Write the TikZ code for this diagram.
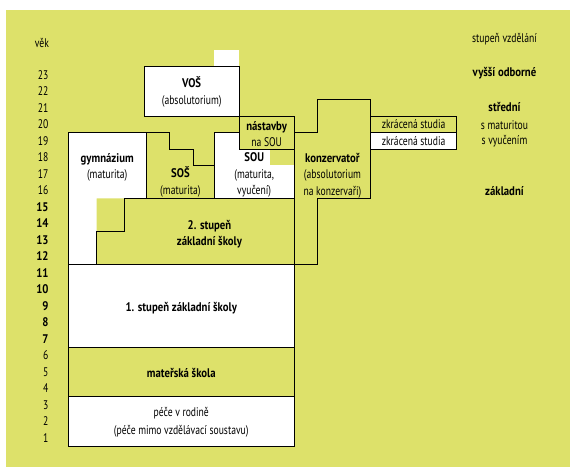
\documentclass[tikz,border=0pt]{standalone}
\usepackage{fontspec}
\setmainfont{PT Sans}[FakeStretch=0.77, BoldFeatures={FakeStretch=0.86}]
\definecolor{zluta}{RGB}{221,225,106}
\tikzset{
  box/.style={draw=black, line width=0.8pt},
  txt/.style={align=center, font=\fontsize{12.5}{16.5}\selectfont},
  age/.style={anchor=east, font=\fontsize{12.5}{14}\selectfont},
  agebf/.style={anchor=east, font=\fontsize{12.5}{14}\selectfont\bfseries},
}
\begin{document}
\begin{tikzpicture}[x=1pt,y=16.5pt]
\useasboundingbox (0,-1.2727) rectangle (570,27.03);
\fill[zluta] (6,-1.2727) rectangle (570,26.42);

\fill[white] (214,23) rectangle (239,24);
\fill[white] (68.3,11) -- (68.3,19) -- (146,19) -- (146,15) -- (96.7,15) -- (96.7,11) -- cycle;
\fill[white] (214,15) rectangle (294.3,19);
\fill[zluta] (270,17) rectangle (294.3,18);

\draw[box, fill=white] (144.3,20) rectangle (239,23);
\draw[box] (68.3,11) -- (68.3,19) -- (146,19) -- (146,15);
\draw[box] (146,19) -- (169.3,19) -- (169.3,18) -- (193.3,18) -- (193.3,17) -- (214,17);
\draw[box] (214,15) -- (214,19) -- (239,19);
\draw[box, fill=zluta] (239,18) rectangle (294.3,20);
\draw[box] (294.3,11) -- (294.3,19) -- (317.7,19) -- (317.7,21) -- (370.5,21) -- (370.5,15) -- (317.7,15) -- (317.7,11) -- cycle;
\draw[box, fill=zluta] (370.5,19) rectangle (456.7,20);
\draw[box, fill=white] (370.5,18) rectangle (456.7,19);
\draw[box] (96.7,11) -- (96.7,13) -- (124,13) -- (124,15) -- (294.3,15);
\draw[box, fill=white] (68.3,6) rectangle (294.3,11);
\draw[box] (68.3,3) rectangle (294.3,6);
\draw[box, fill=white] (68.3,0) rectangle (294.3,3);

\node[txt] (vos) at (191.7,21.45) {\textbf{VOŠ}\\(absolutorium)};
\node[txt] (nastavby) at (266.7,18.9) {\textbf{nástavby}\\na SOU};
\node[txt] (gymn) at (107.2,16.9) {\textbf{gymnázium}\\(maturita)};
\node[txt] (sos) at (180.4,16) {\textbf{SOŠ}\\(maturita)};
\node[txt] (sou) at (254.2,16.4) {\textbf{SOU}\\(maturita,\\vyučení)};
\node[txt] (konz) at (332.5,16.4) {\textbf{konzervatoř}\\(absolutorium\\na konzervaři)};
\node[txt] (zkr1) at (413.6,19.5) {zkrácená studia};
\node[txt] (zkr2) at (413.6,18.5) {zkrácená studia};
\node[txt] (stup2) at (209.5,12.84) {\textbf{2. stupeň}\\\textbf{základní školy}};
\node[txt] (stup1) at (181.3,8.34) {\textbf{1. stupeň základní školy}};
\node[txt] (ms) at (181.3,4.44) {\textbf{mateřská škola}};
\node[txt, font=\fontsize{12.5}{18}\selectfont] (pece) at (181.3,1.43) {péče v rodině\\(péče mimo vzdělávací soustavu)};

\node[txt] (stupen) at (504.5,24.67) {stupeň vzdělání};
\node[txt] (vyssi) at (504.5,22.62) {\textbf{vyšší odborné}};
\node[txt] (stredni) at (504.5,20.55) {\textbf{střední}};
\node[txt] (smat) at (504.5,19.45) {s maturitou};
\node[txt] (svyuc) at (504.5,18.45) {s vyučením};
\node[txt] (zakl) at (504.5,15.45) {\textbf{základní}};

\node[age] (vek) at (52.5,24.45) {věk};
\node[age] (a23) at (52,22.5) {23};
\node[age] (a22) at (52,21.5) {22};
\node[age] (a21) at (52,20.5) {21};
\node[age] (a20) at (52,19.5) {20};
\node[age] (a19) at (52,18.5) {19};
\node[age] (a18) at (52,17.5) {18};
\node[age] (a17) at (52,16.5) {17};
\node[age] (a16) at (52,15.5) {16};
\node[agebf] (a15) at (52,14.5) {15};
\node[agebf] (a14) at (52,13.5) {14};
\node[agebf] (a13) at (52,12.5) {13};
\node[agebf] (a12) at (52,11.5) {12};
\node[agebf] (a11) at (52,10.5) {11};
\node[agebf] (a10) at (52,9.5) {10};
\node[agebf] (a9) at (52,8.5) {9};
\node[agebf] (a8) at (52,7.5) {8};
\node[agebf] (a7) at (52,6.5) {7};
\node[age] (a6) at (52,5.5) {6};
\node[age] (a5) at (52,4.5) {5};
\node[age] (a4) at (52,3.5) {4};
\node[age] (a3) at (52,2.5) {3};
\node[age] (a2) at (52,1.5) {2};
\node[age] (a1) at (52,0.5) {1};
\end{tikzpicture}
\end{document}
